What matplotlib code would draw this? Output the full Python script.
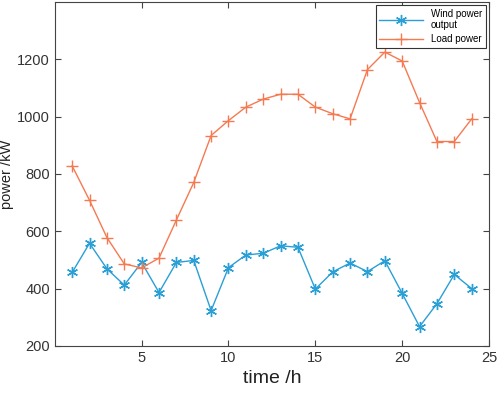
import matplotlib.pyplot as plt

plt.rcParams['font.family'] = ['Liberation Sans', 'DejaVu Sans']

# hourly values
hours = list(range(1, 25))
wind = [456, 558, 469, 412, 491, 386, 491, 498, 323, 473, 517, 523,
        549, 544, 398, 458, 489, 459, 497, 383, 267, 347, 449, 400]
load = [828, 708, 578, 486, 472, 506, 639, 770, 934, 986, 1033, 1061,
        1078, 1078, 1033, 1010, 992, 1164, 1225, 1194, 1049, 913, 913, 992]

wind_color = '#2a9fd6'
load_color = '#f57a52'

fig = plt.figure(figsize=(4.98, 3.93), dpi=100)
ax = fig.add_axes([0.110, 0.120, 0.872, 0.875])

ax.plot(hours, wind, color=wind_color, marker=(6, 2, 0), markersize=8,
        markeredgewidth=1, linewidth=1, label='Wind power\noutput')
ax.plot(hours, load, color=load_color, marker='+', markersize=8,
        markeredgewidth=1, linewidth=1, label='Load power')

ax.set_xlim(0, 25)
ax.set_ylim(200, 1400)
ax.set_xticks([5, 10, 15, 20, 25])
ax.set_yticks([200, 400, 600, 800, 1000, 1200])
ax.tick_params(direction='in', top=True, right=True, labelsize=10.5,
               labelcolor='#333333', color='#444444', length=4)
for s in ax.spines.values():
    s.set_color('#444444')
    s.set_linewidth(0.8)

ax.set_xlabel('time /h', fontsize=14, color='#222222', labelpad=4)
ax.set_ylabel('power /kW', fontsize=10.5, color='#222222', labelpad=2)

leg = ax.legend(loc='upper right', fontsize=7, handlelength=4.5,
                fancybox=False, framealpha=1, borderaxespad=0.3,
                labelspacing=0.4)
leg.get_frame().set_edgecolor('#333333')
leg.get_frame().set_linewidth(0.8)

fig.savefig('out.png', dpi=100)
